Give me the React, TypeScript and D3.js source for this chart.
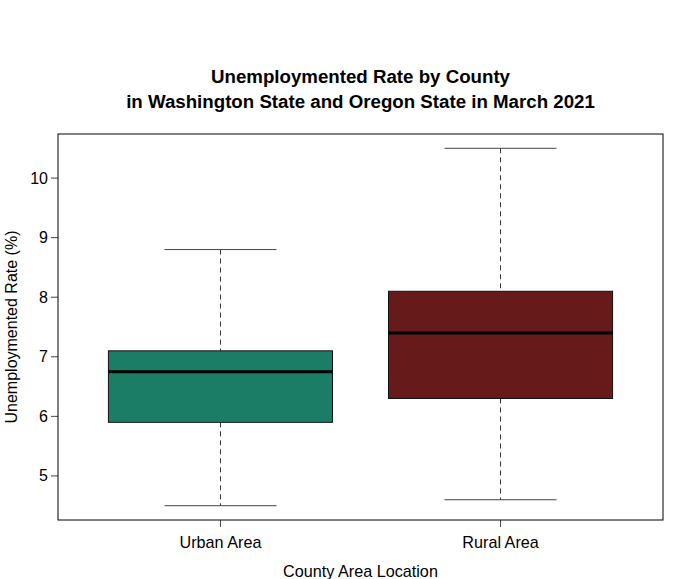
import * as d3 from 'd3';

const categories = ['Urban Area', 'Rural Area'];
const mins = [4.5, 4.6];
const q1s = [5.9, 6.3];
const medians = [6.75, 7.4];
const q3s = [7.1, 8.1];
const maxs = [8.8, 10.5];
const yTickValues = [5, 6, 7, 8, 9, 10];

const COLORS = ['#1b7d65', '#661a1a'];

export default function App() {
  const width = 673;
  const height = 579;
  const margin = { top: 134, right: 10, bottom: 59, left: 58 };
  const innerW = width - margin.left - margin.right;
  const innerH = height - margin.top - margin.bottom;

  // R-style 4% padding around the data range
  const yLo = d3.min(mins) ?? 0;
  const yHi = d3.max(maxs) ?? 1;
  const pad = (yHi - yLo) * 0.04;
  const yScale = d3.scaleLinear().domain([yLo - pad, yHi + pad]).range([innerH, 0]);
  const xScale = d3.scaleLinear().domain([0.42, 2.58]).range([0, innerW]);
  const unit = xScale(2) - xScale(1);
  const boxW = unit * 0.8;
  const stapleW = unit * 0.4;

  const font = 'Liberation Sans, Arial, sans-serif';

  return (
    <svg width={width} height={height} style={{ position: 'absolute', left: 0, top: 0 }}>
      <rect width={width} height={height} fill='#fff' />
      <text x={margin.left + innerW / 2} y={83} textAnchor='middle' fontFamily={font} fontWeight='bold' fontSize={18.7}>
        Unemploymented Rate by County
      </text>
      <text x={margin.left + innerW / 2} y={108} textAnchor='middle' fontFamily={font} fontWeight='bold' fontSize={18.7}>
        in Washington State and Oregon State in March 2021
      </text>
      <g transform={`translate(${margin.left},${margin.top})`}>
        {categories.map((c, i) => {
          const cx = xScale(i + 1);
          return (
            <g key={c}>
              {/* whiskers */}
              <line x1={cx} x2={cx} y1={yScale(maxs[i])} y2={yScale(q3s[i])} stroke='#333' strokeDasharray='5 4' />
              <line x1={cx} x2={cx} y1={yScale(q1s[i])} y2={yScale(mins[i])} stroke='#333' strokeDasharray='5 4' />
              <line x1={cx - stapleW / 2} x2={cx + stapleW / 2} y1={yScale(maxs[i])} y2={yScale(maxs[i])} stroke='#444' />
              <line x1={cx - stapleW / 2} x2={cx + stapleW / 2} y1={yScale(mins[i])} y2={yScale(mins[i])} stroke='#444' />
              {/* box */}
              <rect
                x={cx - boxW / 2}
                y={yScale(q3s[i])}
                width={boxW}
                height={yScale(q1s[i]) - yScale(q3s[i])}
                fill={COLORS[i]}
                stroke='#111'
                strokeWidth={1}
              />
              <line x1={cx - boxW / 2} x2={cx + boxW / 2} y1={yScale(medians[i])} y2={yScale(medians[i])} stroke='#000' strokeWidth={3} />
              {/* x tick + label */}
              <line x1={cx} x2={cx} y1={innerH} y2={innerH + 7} stroke='#444' />
              <text x={cx} y={innerH + 28} textAnchor='middle' fontFamily={font} fontSize={16.2}>
                {c}
              </text>
            </g>
          );
        })}
        {/* Y axis ticks */}
        {yTickValues.map((t) => (
          <g key={t}>
            <line x1={-7} x2={0} y1={yScale(t)} y2={yScale(t)} stroke='#444' />
            <text x={-10} y={yScale(t)} textAnchor='end' dominantBaseline='central' fontFamily={font} fontSize={16}>
              {t}
            </text>
          </g>
        ))}
        {/* frame */}
        <rect x={0} y={0} width={innerW} height={innerH} fill='none' stroke='#000' strokeWidth={1} />
      </g>
      <text x={margin.left + innerW / 2} y={577} textAnchor='middle' fontFamily={font} fontSize={16.2}>
        County Area Location
      </text>
      <text
        transform={`translate(17,${margin.top + innerH / 2}) rotate(-90)`}
        textAnchor='middle'
        fontFamily={font}
        fontSize={16}
      >
        Unemploymented Rate (%)
      </text>
    </svg>
  );
}
